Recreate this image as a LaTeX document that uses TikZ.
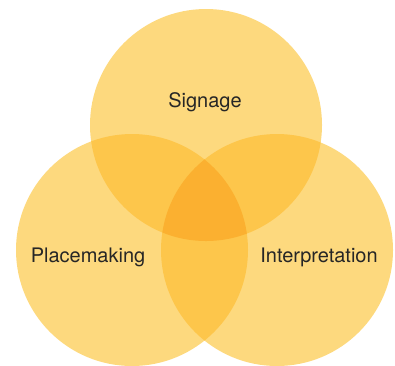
\documentclass[tikz,border=0pt]{standalone}
\usepackage{fontspec}
\setmainfont{TeX Gyre Heros}
\definecolor{one}{HTML}{FDD97E}
\definecolor{two}{HTML}{FDC64B}
\definecolor{three}{HTML}{FBB030}
\tikzset{lbl/.style={font=\fontsize{20}{22}\selectfont, text=black!85, inner sep=0pt}}
\begin{document}
\begin{tikzpicture}[x=1pt,y=-1pt]
\useasboundingbox (0,0) rectangle (395,365);
\def\r{116}
\coordinate (T) at (206,125);
\coordinate (L) at (132,250);
\coordinate (R) at (277,250);
\fill[one] (T) circle (\r);
\fill[one] (L) circle (\r);
\fill[one] (R) circle (\r);
\begin{scope}
\clip (T) circle (\r);
\fill[two] (L) circle (\r);
\fill[two] (R) circle (\r);
\end{scope}
\begin{scope}
\clip (L) circle (\r);
\fill[two] (R) circle (\r);
\end{scope}
\begin{scope}
\clip (T) circle (\r);
\clip (L) circle (\r);
\fill[three] (R) circle (\r);
\end{scope}
\node[lbl] (sig) at (205,102) {Signage};
\node[lbl] (pla) at (88,257) {Placemaking};
\node[lbl] (int) at (319,257) {Interpretation};
\end{tikzpicture}
\end{document}
